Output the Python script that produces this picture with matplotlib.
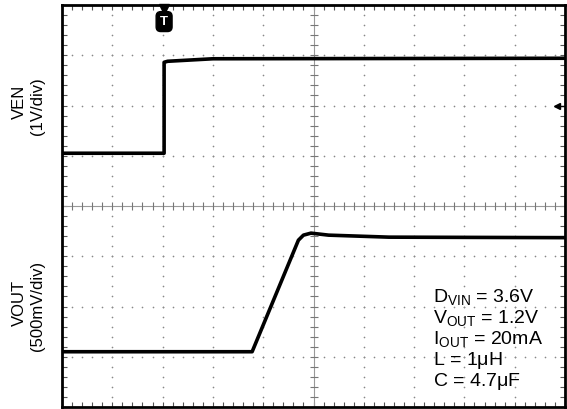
import numpy as np
import matplotlib
matplotlib.use("Agg")
import matplotlib.pyplot as plt

plt.rcParams['font.family'] = ['Liberation Sans', 'DejaVu Sans']
plt.rcParams['mathtext.fontset'] = 'custom'
plt.rcParams['mathtext.rm'] = 'Liberation Sans'
plt.rcParams['mathtext.it'] = 'Liberation Sans'

# Scope traces, in screen divisions (10 horizontal x 8 vertical)
ven_t = [0.0, 2.03, 2.03, 2.10, 3.00, 10.0]
ven_v = [5.05, 5.05, 6.86, 6.88, 6.93, 6.94]

vout_t = [0.0, 3.78, 4.70, 4.80, 4.95, 5.30, 6.50, 10.0]
vout_v = [1.10, 1.10, 3.32, 3.42, 3.46, 3.42, 3.38, 3.37]

trigger_t = 2.03
ref_level = 6.0

conditions = [r'D$_{\mathrm{VIN}}$ = 3.6V',
              r'V$_{\mathrm{OUT}}$ = 1.2V',
              r'I$_{\mathrm{OUT}}$ = 20mA',
              r'L = 1$\mathrm{\mu}$H',
              r'C = 4.7$\mathrm{\mu}$F']

W, H = 567, 409
fig = plt.figure(figsize=(W / 100, H / 100), dpi=100)
ax = fig.add_axes([62 / W, 2 / H, 503 / W, 402 / H])
ax.set_xlim(0, 10)
ax.set_ylim(0, 8)

# frame with inward minor ticks
minor_x = np.arange(0, 10.001, 0.2)
minor_y = np.arange(0, 8.001, 0.2)
ax.set_xticks(minor_x)
ax.set_yticks(minor_y)
ax.tick_params(direction='in', length=3.5, width=0.8, color='#555555',
               top=True, right=True, labelbottom=False, labelleft=False)
for s in ax.spines.values():
    s.set_linewidth(2.0)
    s.set_color('black')

# dotted graticule
grid_kw = dict(ls='none', marker='o', ms=1.2, color='#888888', mec='none')
for gx in range(1, 10):
    if gx == 5:
        continue
    ax.plot(np.full_like(minor_y, gx), minor_y, **grid_kw)
for gy in range(1, 8):
    if gy == 4:
        continue
    ax.plot(minor_x, np.full_like(minor_x, gy), **grid_kw)

# centre crosshair with tick marks
ax.axvline(5, color='#999999', lw=0.8)
ax.axhline(4, color='#999999', lw=0.8)
ax.plot(np.full_like(minor_y, 5), minor_y, ls='none', marker='_', ms=6,
        mew=0.8, color='#777777')
ax.plot(minor_x, np.full_like(minor_x, 4), ls='none', marker='|', ms=6,
        mew=0.8, color='#777777')

# traces
ax.plot(ven_t, ven_v, color='black', lw=2.6, solid_joinstyle='round')
ax.plot(vout_t, vout_v, color='black', lw=2.6, solid_joinstyle='round')

# trigger marker
ax.plot([trigger_t], [7.93], marker='v', ms=7, color='black', clip_on=False)
ax.text(trigger_t, 7.67, 'T', ha='center', va='center', fontsize=9.5,
        fontweight='bold', color='white',
        bbox=dict(boxstyle='round,pad=0.3,rounding_size=0.35',
                  fc='black', ec='black'))

# reference level arrow
ax.plot([9.84, 10.0], [ref_level, ref_level], color='black', lw=1.0)
ax.plot([9.84], [ref_level], marker='<', ms=5, color='black')

# test conditions
base_y = [2.09, 1.67, 1.25, 0.84, 0.42]
for txt, by in zip(conditions, base_y):
    ax.text(7.37, by, txt, fontsize=14, ha='left', va='baseline')

# channel labels
fig.text(19 / W, 1 - 102 / H, 'VEN', rotation=90, ha='center', va='center',
         fontsize=12)
fig.text(37 / W, 1 - 106 / H, '(1V/div)', rotation=90, ha='center',
         va='center', fontsize=12)
fig.text(19 / W, 1 - 303 / H, 'VOUT', rotation=90, ha='center', va='center',
         fontsize=12)
fig.text(37 / W, 1 - 306 / H, '(500mV/div)', rotation=90, ha='center',
         va='center', fontsize=12)

fig.savefig('out.png', dpi=100)
